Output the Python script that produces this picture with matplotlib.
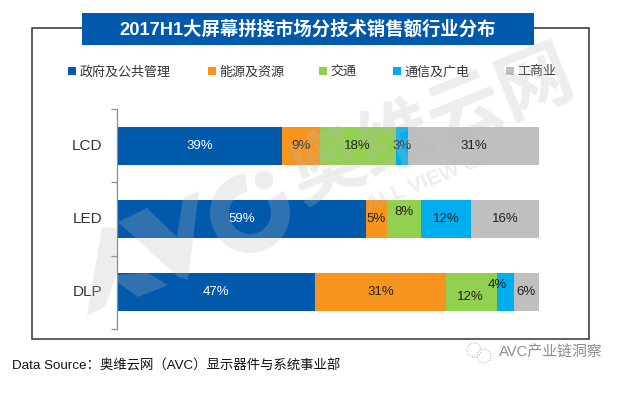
import matplotlib
matplotlib.use("Agg")
import matplotlib.pyplot as plt
from matplotlib.patches import Rectangle, Circle, Polygon, Wedge
import numpy as np

W, H = 630, 396
FONTS = ['Liberation Sans', 'Noto Sans CJK SC', 'DejaVu Sans']
plt.rcParams['font.family'] = FONTS

title = "2017H1大屏幕拼接市场分技术销售额行业分布"
source = "Data Source：奥维云网（AVC）显示器件与系统事业部"
categories = ["LCD", "LED", "DLP"]
series_names = ["政府及公共管理", "能源及资源", "交通", "通信及广电", "工商业"]
government = [39, 59, 47]
energy = [9, 5, 31]
transport = [18, 8, 12]
telecom = [3, 12, 4]
commerce = [31, 16, 6]
colors = ["#0059ab", "#f7941e", "#92d050", "#00aeef", "#bfbfbf"]
label_colors = ["white", "#222222", "#222222", "#222222", "#222222"]
# a few labels sit off centre in the picture: (series, category): (dx, dy) pixels, y down
label_shift = {(2, 1): (0, -7), (3, 2): (-8, -7), (2, 2): (-1, 5)}

fig = plt.figure(figsize=(W / 100, H / 100), dpi=100)

# page layer in pixel coords
bg = fig.add_axes([0, 0, 1, 1])
bg.set_xlim(0, W)
bg.set_ylim(H, 0)
bg.axis("off")
bg.add_patch(Rectangle((32, 28), 557, 311, fc="white", ec="#333333", lw=1.1))
bg.add_patch(Rectangle((82, 13), 452, 32, fc="#0059ab", ec="none", zorder=3))
bg.text(308, 30, title, color="white", fontsize=13.2, fontweight="bold",
        ha="center", va="center", zorder=4)

leg_x = [68, 208, 319, 393, 506]
for x, name, c in zip(leg_x, series_names, colors):
    bg.add_patch(Rectangle((x, 67), 7.5, 7.5, fc=c, ec="none"))
    bg.text(x + 11.5, 75.5, name, fontsize=9.4, color="#333333", ha="left", va="baseline")

bg.text(12, 366, source, fontsize=9.65, color="#111111", ha="left", va="center")
bg.text(499, 353, "AVC产业链洞察", fontsize=10.7, color="#8c8c8c", ha="left", va="center")
bg.add_patch(Circle((474, 350), 7, fc="none", ec="#a8a8a8", lw=0.7, ls=":"))
bg.add_patch(Circle((484, 356), 7, fc="none", ec="#a8a8a8", lw=0.7, ls=":"))

# chart
ax = fig.add_axes([117 / W, 1 - 329 / H, 422 / W, 220 / H])
ax.patch.set_alpha(0)
ax.set_xlim(0, 100)
ax.set_ylim(2.5, -0.5)
left = np.zeros(3)
values = [government, energy, transport, telecom, commerce]
for i, vals in enumerate(values):
    ax.barh(categories, vals, left=left, height=0.52, color=colors[i], zorder=2)
    for j, v in enumerate(vals):
        xc = left[j] + v / 2
        dx, dy = label_shift.get((i, j), (0, 0))
        ax.annotate(f"{v}%", (xc, j), xytext=(dx * 0.72, -dy * 0.72), textcoords="offset points",
                    ha="center", va="center", fontsize=9.5, color=label_colors[i], zorder=5)
    left = left + np.array(vals)
for s in ["top", "right", "bottom"]:
    ax.spines[s].set_visible(False)
ax.spines["left"].set_color("#8c8c8c")
ax.spines["left"].set_linewidth(0.9)
ax.set_yticks([-0.5, 0.5, 1.5, 2.5])
ax.set_yticklabels([])
ax.tick_params(axis="y", length=4.5, color="#8c8c8c", width=0.9)
ax.tick_params(axis="x", length=0, labelbottom=False)
for j, c in enumerate(categories):
    ax.annotate(c, (0, j), xytext=(-21.5, 0), textcoords="offset points", ha="center", va="center",
                fontsize=11, color="#333333", annotation_clip=False)

# AVC watermark lies over the bars and labels
top = fig.add_axes([0, 0, 1, 1])
top.set_xlim(0, W)
top.set_ylim(H, 0)
top.axis("off")
top.patch.set_alpha(0)
wm_color = "#bbbbbb"
wm_alpha = 0.26
logo_shapes = [
    [(87, 316), (105, 307), (117, 273), (117, 228), (102, 227)],
    [(117, 275), (148, 273), (168, 285), (138, 297), (117, 282)],
    [(118, 222), (147, 208), (177, 237), (183, 198), (199, 191), (188, 280), (178, 277)],
]
for shape in logo_shapes:
    top.add_patch(Polygon(shape, fc=wm_color, ec="none", alpha=wm_alpha))
top.add_patch(Wedge((250, 213), 40, -34, 263, width=19, fc=wm_color, ec="none", alpha=wm_alpha))
top.add_patch(Circle((264, 180), 9.5, fc=wm_color, ec="none", alpha=wm_alpha))
top.text(433, 127, "奥维云网", fontsize=54, color=wm_color, alpha=wm_alpha, ha="center", va="center",
         rotation=22, fontweight="bold")
top.text(450, 172, "ALL VIEW CLOUD", fontsize=15, color=wm_color, alpha=wm_alpha, ha="center", va="center",
         rotation=22, fontweight="bold")

fig.savefig("out.png", dpi=100)
